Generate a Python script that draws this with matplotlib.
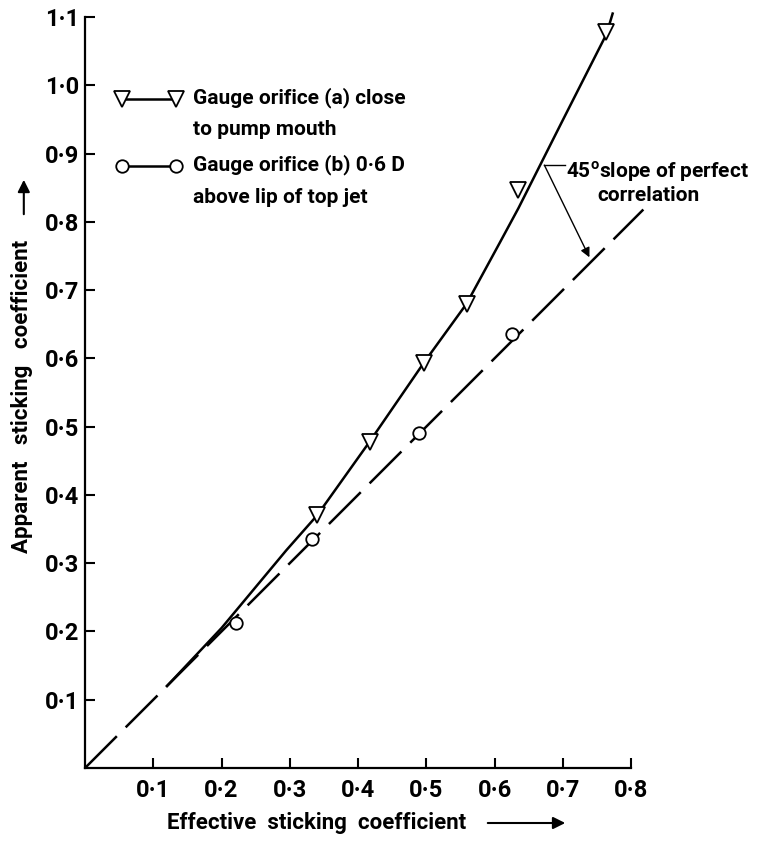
import matplotlib
matplotlib.use('Agg')
import matplotlib.pyplot as plt
import matplotlib.transforms as mtransforms
from matplotlib.lines import Line2D
from matplotlib.legend_handler import HandlerLine2D
from matplotlib.patches import FancyArrowPatch

plt.rcParams['font.family'] = ['Roboto', 'DejaVu Sans']
plt.rcParams['mathtext.fontset'] = 'custom'
plt.rcParams['mathtext.rm'] = 'Roboto:bold'

# gauge orifice (a): hand drawn curve and measured points
curve_a_x = [0.12, 0.20, 0.295, 0.34, 0.417, 0.496, 0.559, 0.608, 0.635, 0.698, 0.764, 0.773]
curve_a_y = [0.12, 0.205, 0.319, 0.37, 0.478, 0.593, 0.68, 0.77, 0.82, 0.945, 1.075, 1.105]
gauge_a_x = [0.340, 0.417, 0.496, 0.559, 0.635, 0.764]
gauge_a_y = [0.370, 0.478, 0.593, 0.680, 0.846, 1.078]

# gauge orifice (b): points on the 45 deg line
gauge_b_x = [0.221, 0.333, 0.489, 0.626]
gauge_b_y = [0.213, 0.335, 0.490, 0.635]

# perfect correlation line
perfect_x = [0.0, 0.818]
perfect_y = [0.0, 0.818]

x_ticks = [0.1, 0.2, 0.3, 0.4, 0.5, 0.6, 0.7, 0.8]
x_labels = ['0·1', '0·2', '0·3', '0·4', '0·5', '0·6', '0·7', '0·8']
y_ticks = [0.1, 0.2, 0.3, 0.4, 0.5, 0.6, 0.7, 0.8, 0.9, 1.0, 1.1]
y_labels = ['0·1', '0·2', '0·3', '0·4', '0·5', '0·6', '0·7', '0·8', '0·9', '1·0', '1·1']


class FirstLineHandler(HandlerLine2D):
    # put the legend sample level with the first line of a two line label
    def __init__(self, shift, **kw):
        super().__init__(**kw)
        self.shift = shift

    def create_artists(self, legend, orig_handle, xdescent, ydescent,
                       width, height, fontsize, trans):
        arts = super().create_artists(legend, orig_handle, xdescent, ydescent,
                                      width, height, fontsize, trans)
        t = mtransforms.Affine2D().translate(0, self.shift) + trans
        for a in arts:
            a.set_transform(t)
        return arts


fig = plt.figure(figsize=(7.68, 8.41), dpi=100)
ax = fig.add_axes([0.1107, 0.0868, 0.711, 0.893])

ax.plot(perfect_x, perfect_y, color='black', lw=1.8, dashes=(18, 5),
        dash_capstyle='butt', clip_on=False, zorder=2)
ax.plot(curve_a_x, curve_a_y, color='black', lw=1.8, clip_on=False, zorder=2)
ax.plot(gauge_a_x, gauge_a_y, ls='none', marker='v', ms=11, mfc='white',
        mec='black', mew=1.3, clip_on=False, zorder=3)
ax.plot(gauge_b_x, gauge_b_y, ls='none', marker='o', ms=9, mfc='white',
        mec='black', mew=1.3, clip_on=False, zorder=3)

ax.set_xlim(0, 0.8)
ax.set_ylim(0, 1.1)
ax.set_xticks(x_ticks)
ax.set_xticklabels(x_labels, fontweight='bold')
ax.set_yticks(y_ticks)
ax.set_yticklabels(y_labels, fontweight='bold')

for s in ['top', 'right']:
    ax.spines[s].set_visible(False)
for s in ['left', 'bottom']:
    ax.spines[s].set_linewidth(1.6)
ax.tick_params(axis='both', direction='in', length=7, width=1.5, labelsize=17)
ax.tick_params(axis='x', pad=8)
ax.tick_params(axis='y', pad=4)

# legend
handles = [
    Line2D([], [], color='black', lw=1.8, marker='v', ms=11, mfc='white', mec='black', mew=1.3),
    Line2D([], [], color='black', lw=1.8, marker='o', ms=9, mfc='white', mec='black', mew=1.3),
]
labels = ['Gauge orifice (a) close\nto pump mouth',
          'Gauge orifice (b) 0·6 D\nabove lip of top jet']
hnd = FirstLineHandler(10.3, numpoints=2)
leg = ax.legend(handles, labels, loc='upper left', bbox_to_anchor=(0.056, 0.907),
                frameon=False, numpoints=2, handlelength=3.2, handletextpad=0.5,
                borderpad=0, borderaxespad=0, labelspacing=0.72,
                handler_map={Line2D: hnd},
                prop={'size': 15, 'weight': 'bold'})
for t in leg.get_texts():
    t.set_linespacing(1.85)

# annotation for the 45 deg line
ax.annotate('', xy=(0.739, 0.748), xytext=(0.673, 0.883),
            arrowprops=dict(arrowstyle='-|>', lw=1.0, color='black',
                            mutation_scale=14, shrinkA=0, shrinkB=0))
ax.plot([0.673, 0.703], [0.883, 0.883], color='black', lw=1.0)
ax.text(0.704, 0.873, '45$^{\\mathrm{o}}$slope of perfect', fontsize=15,
        fontweight='bold', va='center', ha='left')
ax.text(0.751, 0.838, 'correlation', fontsize=15, fontweight='bold',
        va='center', ha='left')

# axis labels with arrows
fig.text(0.4128, 0.0214, 'Effective  sticking  coefficient', fontsize=16,
         fontweight='bold', ha='center', va='center')
fig.patches.append(FancyArrowPatch(
    (0.6315, 0.0214), (0.7396, 0.0214), transform=fig.transFigure,
    arrowstyle='-|>', lw=1.5, color='black', mutation_scale=18))
fig.text(0.0286, 0.5285, 'Apparent   sticking   coefficient', fontsize=16,
         fontweight='bold', rotation=90, ha='center', va='center')
fig.patches.append(FancyArrowPatch(
    (0.031, 0.742), (0.031, 0.7895), transform=fig.transFigure,
    arrowstyle='-|>', lw=1.5, color='black', mutation_scale=18))

fig.savefig('out.png', dpi=100)
